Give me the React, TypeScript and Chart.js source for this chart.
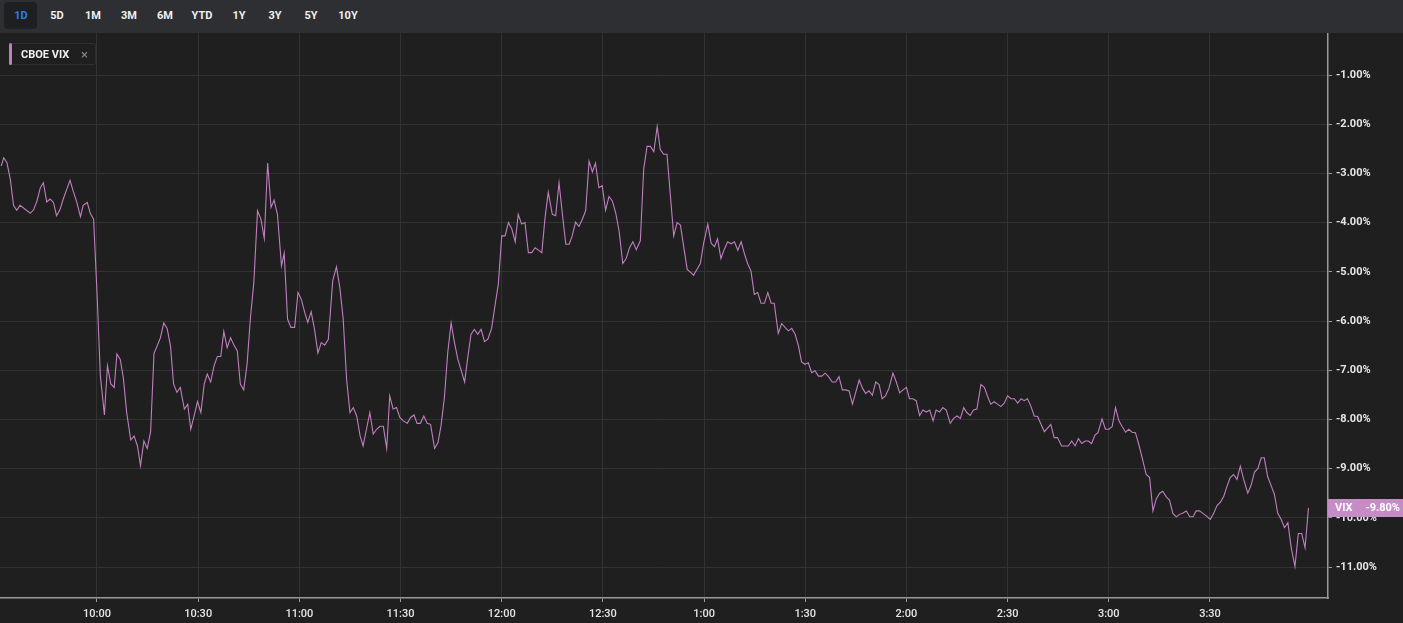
import React, { useEffect, useRef } from "react";
import { Chart, registerables } from "chart.js";

Chart.register(...registerables);

// Minutes since 9:30 and VIX % change
const minutes: number[] = [
  1.6, 2.35, 3.3, 4.3, 5.25, 6.2, 7.2, 10.2, 11.2, 12.2, 13.2, 14.1, 15.1, 16.1, 17.1, 18.0, 19.0, 20.0, 21.0, 22.0,
  22.9, 23.9, 25.1, 25.9, 27.1, 28.0, 29.0, 30.0, 31.0, 32.2, 33.1, 34.1, 35.1, 35.9, 36.9, 37.8, 38.8, 40.0, 41.0, 42.0,
  42.9, 43.9, 44.9, 45.9, 46.9, 47.8, 48.8, 49.8, 50.8, 51.8, 52.7, 53.7, 54.7, 55.9, 56.9, 57.8, 58.8, 59.8, 60.8, 61.8,
  62.7, 63.7, 64.7, 65.7, 66.7, 67.6, 68.6, 69.6, 70.6, 71.6, 72.5, 73.5, 74.5, 75.5, 76.5, 77.6, 78.6, 79.6, 80.6, 81.6,
  82.5, 83.5, 84.7, 85.5, 86.5, 87.5, 88.6, 89.6, 90.6, 91.6, 92.5, 93.5, 94.5, 95.5, 96.5, 97.5, 98.6,
  99.9, 101.0, 102.0, 103.0, 104.0, 105.0, 106.0, 107.0, 108.0, 108.9, 109.9, 110.9, 111.9, 112.9, 113.9, 114.9, 115.9,
  116.8, 117.8, 118.8, 119.8, 120.8, 122.0, 123.0, 124.0, 124.9, 125.9, 126.9, 127.9, 128.9, 130.1, 131.1, 132.0, 133.0,
  134.0, 135.0, 136.0, 137.0, 138.0, 139.0, 140.0, 140.9, 141.9, 142.9, 143.9, 144.9, 145.9, 147.0, 148.0, 149.0, 150.0,
  151.0, 152.0, 153.0, 154.0, 154.9, 155.9, 156.9, 157.9, 158.9, 159.9, 160.9, 161.9, 162.8, 163.8, 165.0, 166.0, 167.0,
  168.0, 169.0, 170.0, 170.9, 171.9, 172.9, 173.9, 174.9, 175.9, 176.9, 177.8, 178.8, 179.8, 180.8, 181.8, 182.8, 183.8,
  184.8, 185.9, 186.9, 187.9, 188.9, 189.9, 191.1, 192.1, 193.1, 194.1, 195.1, 196.1, 197.0, 198.0, 199.0, 200.0, 201.0,
  202.0, 203.0, 204.0, 205.0, 206.0, 206.9, 207.9, 208.9,
  209.9, 211.1, 212.1, 213.1, 214.0, 215.0, 216.0, 217.0, 218.0, 219.0, 220.0, 221.0, 222.0, 222.9, 223.9, 224.9, 225.9,
  226.9, 227.9, 228.9, 229.9, 230.8, 232.0, 233.0, 234.0, 235.0, 236.0, 237.0, 238.0, 238.9, 239.9, 240.9, 241.9, 242.9,
  243.9, 244.9, 245.9, 246.9, 248.0, 249.0, 250.0, 251.0, 252.0, 253.0, 254.0, 255.0, 256.0, 257.0, 257.9, 258.9, 259.9,
  260.9, 261.9, 262.8, 263.8, 264.8, 266.0, 267.0, 268.0, 269.0, 270.0, 270.9, 271.9, 272.9, 273.9, 274.9, 275.9, 276.9,
  277.9, 278.8, 279.8, 280.8, 281.8, 283.0, 284.0, 285.0, 286.0, 287.0, 287.9, 288.9, 289.9, 290.9, 292.1, 293.1, 294.1,
  295.0, 296.0, 297.0, 298.0, 299.0, 300.0, 301.0, 302.0, 303.0, 304.0, 304.9, 305.9, 306.9, 307.9, 308.9, 309.9, 310.9,
  311.9, 312.8, 313.8, 314.8, 316.0, 317.0, 318.0, 319.0, 320.0, 321.0, 322.0, 323.0, 323.9, 324.9, 325.9, 326.8,
  328.0, 329.0, 330.0, 331.0, 332.0, 333.0, 334.0, 335.0, 335.9, 336.9, 337.9, 338.9, 339.9, 341.1, 342.1, 343.1, 344.1,
  345.1, 346.0, 347.0, 348.0, 349.0, 350.0, 351.0, 352.0, 353.0, 354.0, 355.0, 355.9, 356.9, 357.9, 358.9, 360.1, 361.1,
  362.1, 363.1, 364.1, 365.0, 366.0, 367.0, 368.0, 369.0, 370.0, 371.2, 372.2, 373.2, 374.2, 375.2, 376.1, 377.1, 378.1,
  379.1, 380.1, 381.1, 382.1, 383.1, 384.1, 385.2, 386.2, 387.2, 388.2, 389.2,
];

const vixChange: number[] = [
  -2.85, -2.68, -2.78, -3.12, -3.65, -3.75, -3.65, -3.81, -3.74, -3.56, -3.29, -3.19, -3.58, -3.52, -3.59, -3.86, -3.74, -3.52, -3.33, -3.14,
  -3.35, -3.56, -3.88, -3.65, -3.59, -3.81, -3.93, -5.42, -7.12, -7.91, -6.91, -7.28, -7.35, -6.67, -6.78, -7.15, -7.86, -8.42, -8.34, -8.54,
  -8.94, -8.44, -8.59, -8.25, -6.66, -6.51, -6.34, -6.04, -6.15, -6.51, -7.28, -7.45, -7.35, -7.79, -7.69, -8.20, -7.93, -7.64, -7.86, -7.28,
  -7.08, -7.24, -6.91, -6.72, -6.72, -6.21, -6.54, -6.34, -6.49, -6.61, -7.28, -7.40, -6.88, -5.93, -5.22, -3.76, -3.93, -4.32, -2.79, -3.69,
  -3.54, -3.83, -4.88, -4.62, -5.96, -6.13, -6.13, -5.42, -5.56, -5.83, -6.03, -5.81, -6.17, -6.65, -6.44, -6.49, -6.37,
  -5.18, -4.90, -5.32, -5.96, -7.18, -7.86, -7.76, -7.93, -8.33, -8.54, -8.20, -7.86, -8.30, -8.20, -8.14, -8.14, -8.59,
  -7.52, -7.79, -7.76, -7.96, -8.03, -8.08, -7.96, -7.91, -8.08, -8.08, -7.93, -8.08, -8.10, -8.59, -8.47, -8.13, -7.56,
  -6.64, -6.04, -6.44, -6.78, -7.01, -7.24, -6.71, -6.27, -6.17, -6.27, -6.17, -6.42, -6.37, -6.15, -5.69, -5.25, -4.27,
  -4.27, -4.00, -4.13, -4.39, -3.83, -4.03, -4.00, -4.61, -4.61, -4.51, -4.56, -4.61, -3.93, -3.38, -3.83, -3.86, -3.19,
  -3.83, -4.44, -4.44, -4.27, -3.99, -4.08, -3.93, -3.76, -2.75, -2.97, -2.79, -3.29, -3.25, -3.75, -3.47, -3.56, -3.80,
  -4.17, -4.83, -4.73, -4.51, -4.39, -4.55, -4.37, -2.91, -2.45, -2.45, -2.56, -2.05, -2.51, -2.61, -2.61, -3.44, -4.27,
  -4.00, -4.05, -4.51, -4.95, -5.01, -5.07, -4.95, -4.83,
  -4.41, -4.03, -4.42, -4.49, -4.33, -4.73, -4.54, -4.39, -4.43, -4.39, -4.56, -4.39, -4.64, -4.83, -4.98, -5.46, -5.42,
  -5.64, -5.64, -5.42, -5.64, -5.64, -6.25, -6.05, -6.13, -6.20, -6.15, -6.27, -6.51, -6.83, -6.88, -6.85, -7.05, -7.01,
  -7.12, -7.12, -7.06, -7.13, -7.24, -7.24, -7.13, -7.40, -7.40, -7.42, -7.69, -7.44, -7.20, -7.37, -7.47, -7.42, -7.51,
  -7.24, -7.29, -7.58, -7.52, -7.37, -7.06, -7.24, -7.46, -7.40, -7.35, -7.58, -7.58, -7.62, -7.92, -7.81, -7.85, -7.81,
  -8.03, -7.81, -7.85, -7.76, -7.81, -8.08, -7.98, -7.93, -7.98, -7.76, -7.86, -7.92, -7.81, -7.79, -7.29, -7.35, -7.54,
  -7.69, -7.64, -7.69, -7.74, -7.67, -7.52, -7.58, -7.58, -7.67, -7.58, -7.62, -7.58, -7.73, -7.93, -7.94, -8.10, -8.25,
  -8.17, -8.10, -8.37, -8.37, -8.54, -8.54, -8.54, -8.44, -8.54, -8.39, -8.49, -8.44, -8.44, -8.49, -8.32, -8.27,
  -7.99, -8.20, -8.20, -8.15, -7.76, -8.03, -8.15, -8.26, -8.20, -8.26, -8.27, -8.51, -8.78, -9.12, -9.18, -9.86, -9.61,
  -9.50, -9.46, -9.57, -9.64, -9.91, -9.98, -9.93, -9.90, -9.86, -9.98, -9.98, -9.86, -9.86, -9.91, -9.96, -10.03, -9.91,
  -9.75, -9.68, -9.56, -9.37, -9.18, -9.12, -9.22, -8.95, -9.22, -9.50, -9.34, -9.07, -9.00, -8.78, -8.78, -9.16, -9.34,
  -9.52, -9.91, -10.03, -10.20, -10.10, -10.61, -10.99, -10.32, -10.32, -10.61, -9.80,
];

const xTickMinutes: number[] = [30, 60, 90, 120, 150, 180, 210, 240, 270, 300, 330, 360];
const xTickLabels: string[] = ["10:00", "10:30", "11:00", "11:30", "12:00", "12:30", "1:00", "1:30", "2:00", "2:30", "3:00", "3:30"];
const yTicks: number[] = [-1, -2, -3, -4, -5, -6, -7, -8, -9, -10, -11];
const ranges: string[] = ["1D", "5D", "1M", "3M", "6M", "YTD", "1Y", "3Y", "5Y", "10Y"];
const rangeCenters: number[] = [21, 57, 93, 129, 165, 202, 239, 275, 311, 348];

const SERIES_NAME = "CBOE VIX";
const BADGE_NAME = "VIX";

const X_MIN = 1.24;
const X_MAX = 395;
const Y_MIN = -11.63;
const Y_MAX = -0.146;

const BG = "#1f1f1f";
const BAR_BG = "#2e2f32";
const LINE = "#c07fc0";
const BADGE = "#c68cc6";
const GRID = "#323232";
const AXIS = "#9a9a9a";
const TEXT = "#e6e6e6";
const FONT = "Roboto, 'Liberation Sans', Arial, sans-serif";

export default function App() {
  const canvasRef = useRef<HTMLCanvasElement>(null);

  useEffect(() => {
    document.body.style.margin = "0";
    const canvas = canvasRef.current;
    if (!canvas) return;

    const badgePlugin = {
      id: "lastBadge",
      afterDraw(chart: any) {
        const { ctx, chartArea, scales } = chart;
        const last = vixChange[vixChange.length - 1];
        const y = scales.y.getPixelForValue(last);
        const h = 18;
        ctx.save();
        ctx.fillStyle = BADGE;
        ctx.fillRect(chartArea.right, Math.round(y - h / 2), chart.width - chartArea.right, h);
        ctx.fillStyle = "#ffffff";
        ctx.font = `bold 11px ${FONT}`;
        ctx.textBaseline = "middle";
        ctx.textAlign = "left";
        ctx.fillText(BADGE_NAME, chartArea.right + 7, y + 0.5);
        ctx.textAlign = "right";
        ctx.fillText(last.toFixed(2) + "%", chart.width - 3, y + 0.5);
        ctx.restore();
      },
    };

    const chart = new Chart(canvas, {
      type: "line",
      data: {
        datasets: [
          {
            label: SERIES_NAME,
            data: minutes.map((m, i) => ({ x: m, y: vixChange[i] })),
            borderColor: LINE,
            borderWidth: 1.1,
            pointRadius: 0,
            tension: 0,
            fill: false,
          },
        ],
      },
      options: {
        responsive: false,
        maintainAspectRatio: false,
        animation: false,
        layout: { padding: 0 },
        plugins: { legend: { display: false }, tooltip: { enabled: false } },
        scales: {
          x: {
            type: "linear",
            min: X_MIN,
            max: X_MAX,
            afterBuildTicks: (s: any) => {
              s.ticks = xTickMinutes.map((v) => ({ value: v }));
            },
            afterFit: (s: any) => {
              s.height = 25;
              s.paddingLeft = 0;
              s.paddingRight = 0;
            },
            ticks: {
              autoSkip: false,
              maxRotation: 0,
              padding: 6,
              color: TEXT,
              font: { family: FONT, size: 11, weight: "500" },
              callback: (v: any) => {
                const i = xTickMinutes.indexOf(Number(v));
                return i >= 0 ? xTickLabels[i] : "";
              },
            },
            grid: { color: GRID, tickColor: AXIS, tickLength: 4, lineWidth: 1 },
            border: { color: AXIS, width: 1.5 },
          },
          y: {
            position: "right",
            min: Y_MIN,
            max: Y_MAX,
            afterBuildTicks: (s: any) => {
              s.ticks = yTicks.map((v) => ({ value: v }));
            },
            afterFit: (s: any) => {
              s.width = 75;
              s.paddingTop = 0;
              s.paddingBottom = 0;
            },
            ticks: {
              padding: 4,
              color: TEXT,
              font: { family: FONT, size: 11, weight: "bold" },
              callback: (v: any) => Number(v).toFixed(2) + "%",
            },
            grid: { color: GRID, tickColor: AXIS, tickLength: 4, lineWidth: 1 },
            border: { color: AXIS, width: 1.5 },
          },
        },
      },
      plugins: [badgePlugin],
    });
    return () => chart.destroy();
  }, []);

  return (
    <div
      style={{
        position: "fixed",
        left: 0,
        top: 0,
        width: 1403,
        height: 623,
        background: BG,
        overflow: "hidden",
        fontFamily: FONT,
      }}
    >
      <div style={{ position: "absolute", left: 0, top: 0, width: 1403, height: 33, background: BAR_BG }}>
        <div
          style={{
            position: "absolute",
            left: 4,
            top: 2,
            width: 33,
            height: 27,
            borderRadius: 4,
            background: "#1e1f21",
          }}
        />
        {ranges.map((r, i) => (
          <div
            key={r}
            style={{
              position: "absolute",
              left: rangeCenters[i] - 20,
              width: 40,
              top: 8,
              textAlign: "center",
              fontSize: 11,
              fontWeight: 700,
              color: i === 0 ? "#2f7cf0" : "#f0f0f0",
              lineHeight: "15px",
            }}
          >
            {r}
          </div>
        ))}
      </div>
      <canvas
        ref={canvasRef}
        width={1403}
        height={590}
        style={{ position: "absolute", left: 0, top: 33, width: 1403, height: 590 }}
      />
      <div
        style={{
          position: "absolute",
          left: 9,
          top: 43,
          width: 87,
          height: 22,
          border: "1px solid #2e2e2e",
          borderRadius: 3,
          background: BG,
          boxSizing: "border-box",
        }}
      >
        <div
          style={{
            position: "absolute",
            left: -1,
            top: -1,
            width: 3,
            height: 22,
            borderRadius: 2,
            background: LINE,
          }}
        />
        <div
          style={{
            position: "absolute",
            left: 11,
            top: 3,
            fontSize: 11,
            fontWeight: 700,
            color: "#f0f0f0",
            lineHeight: "15px",
            whiteSpace: "nowrap",
          }}
        >
          {SERIES_NAME}
        </div>
        <div
          style={{
            position: "absolute",
            left: 71,
            top: 3,
            fontSize: 13,
            color: "#8a8a8a",
            lineHeight: "15px",
          }}
        >
          ×
        </div>
      </div>
    </div>
  );
}
